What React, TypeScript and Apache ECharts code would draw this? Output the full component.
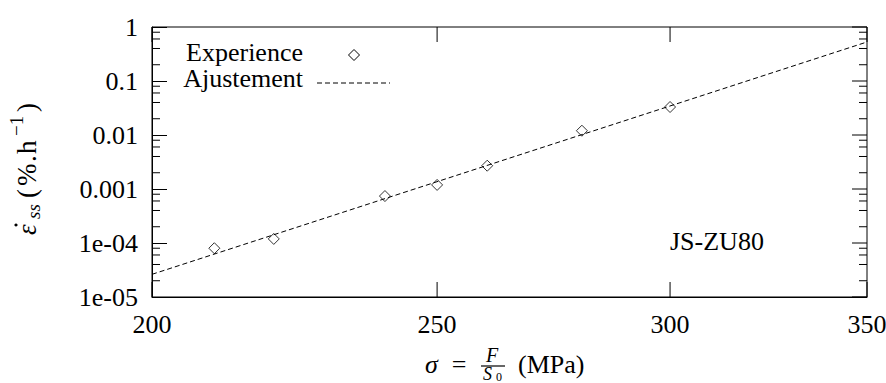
import React, { useEffect, useRef } from 'react';
import * as echarts from 'echarts';

// ---- data ----
const stressMPa = [210, 220, 240, 250, 260, 280, 300];
const creepRate = [8.0e-5, 1.19e-4, 7.4e-4, 1.19e-3, 2.7e-3, 1.2e-2, 3.3e-2];
const fitStress = [200, 350];
const fitRate = [2.63e-5, 0.528];

const xTickValues = [200, 250, 300, 350];
const xTickLabels = ['200', '250', '300', '350'];
const yMajorValues = [1e-5, 1e-4, 1e-3, 1e-2, 1e-1, 1];
const yTickLabels = ['1e-05', '1e-04', '0.001', '0.01', '0.1', '1'];
const yMinorValues = [
  2e-5, 4e-5, 6e-5, 8e-5,
  2e-4, 4e-4, 6e-4, 8e-4,
  2e-3, 4e-3, 6e-3, 8e-3,
  2e-2, 4e-2, 6e-2, 8e-2,
  0.2, 0.4, 0.6, 0.8,
];
const seriesNames = ['Experience', 'Ajustement'];
const annotationText = 'JS-ZU80';

const X_MIN = 200;
const X_MAX = 350;
const Y_MIN = 1e-5;
const Y_MAX = 1;

const FONT_FAMILY = 'Liberation Serif';
const MAJOR_LEN = 15;
const MINOR_LEN = 8;

function fontOf(size: number, italic = false) {
  return `${italic ? 'italic ' : ''}${size}px ${FONT_FAMILY}`;
}

function txt(x: number, y: number, text: string, size: number, align: string, italic = false, extra: any = {}) {
  const style: any = {
    text,
    fill: '#000',
    font: fontOf(size, italic),
    fontSize: size,
    fontFamily: FONT_FAMILY,
    align,
    verticalAlign: 'middle',
    ...extra,
  };
  if (italic) style.fontStyle = 'italic';
  return { type: 'text', x, y, silent: true, style };
}

// text placed by its baseline (Liberation Serif: em-centre is 0.3375em above baseline)
function btxt(x: number, baseline: number, text: string, size: number, italic = false) {
  return txt(x, baseline - 0.3375 * size, text, size, 'left', italic, { lineHeight: Math.round(size * 0.8) });
}

export default function App() {
  const ref = useRef<HTMLDivElement>(null);

  useEffect(() => {
    if (!ref.current) return;
    const chart = echarts.init(ref.current, undefined, { renderer: 'svg' });

    const option: any = {
      animation: false,
      backgroundColor: '#fff',
      textStyle: { fontFamily: FONT_FAMILY },
      grid: {
        left: 152,
        right: 19,
        top: 27,
        bottom: 86,
        show: true,
        borderColor: '#000',
        borderWidth: 1,
        containLabel: false,
        outerBoundsMode: 'none',
      },
      xAxis: {
        type: 'log',
        logBase: 10,
        min: X_MIN,
        max: X_MAX,
        axisLine: { show: true, lineStyle: { color: '#000', width: 1 } },
        axisTick: { show: false },
        axisLabel: { show: false },
        splitLine: { show: false },
        minorTick: { show: false },
      },
      yAxis: {
        type: 'log',
        logBase: 10,
        min: Y_MIN,
        max: Y_MAX,
        splitNumber: 5,
        axisLine: { show: true, lineStyle: { color: '#000', width: 1 } },
        axisTick: { show: true, inside: true, length: MAJOR_LEN, lineStyle: { color: '#000', width: 1 } },
        axisLabel: {
          show: true,
          margin: 14,
          color: '#000',
          fontSize: 26,
          fontFamily: FONT_FAMILY,
          formatter: (v: number) => {
            const i = yMajorValues.findIndex((m) => Math.abs(Math.log10(m) - Math.log10(v)) < 1e-6);
            return i >= 0 ? yTickLabels[i] : '';
          },
        },
        splitLine: { show: false },
        minorTick: { show: false },
      },
      series: [
        {
          name: seriesNames[1],
          type: 'line',
          data: fitStress.map((x, i) => [x, fitRate[i]]),
          showSymbol: false,
          symbol: 'none',
          lineStyle: { color: '#000', width: 1, type: [5, 3] },
          z: 2,
          silent: true,
        },
        {
          name: seriesNames[0],
          type: 'scatter',
          data: stressMPa.map((x, i) => [x, creepRate[i]]),
          symbol: 'diamond',
          symbolSize: 11,
          itemStyle: { color: 'rgba(0,0,0,0)', borderColor: '#000', borderWidth: 1 },
          z: 3,
          silent: true,
        },
        {
          // x ticks (bottom and top) + labels
          type: 'custom',
          coordinateSystem: 'cartesian2d',
          clip: false,
          silent: true,
          z: 4,
          data: xTickValues.map((v) => [v, Y_MIN]),
          renderItem: (params: any, api: any) => {
            const v = xTickValues[params.dataIndex];
            const b = api.coord([v, Y_MIN]);
            const t = api.coord([v, Y_MAX]);
            return {
              type: 'group',
              children: [
                { type: 'line', shape: { x1: b[0], y1: b[1], x2: b[0], y2: b[1] - MAJOR_LEN }, style: { stroke: '#000', lineWidth: 1 } },
                { type: 'line', shape: { x1: t[0], y1: t[1], x2: t[0], y2: t[1] + MAJOR_LEN }, style: { stroke: '#000', lineWidth: 1 } },
                {
                  type: 'text',
                  x: b[0],
                  y: b[1] + 27,
                  style: {
                    text: xTickLabels[params.dataIndex],
                    fill: '#000',
                    font: fontOf(26),
                    fontSize: 26,
                    fontFamily: FONT_FAMILY,
                    align: 'center',
                    verticalAlign: 'middle',
                  },
                },
              ],
            };
          },
        },
        {
          // right-side major y ticks
          type: 'custom',
          coordinateSystem: 'cartesian2d',
          clip: false,
          silent: true,
          z: 4,
          data: yMajorValues.map((v) => [X_MAX, v]),
          renderItem: (params: any, api: any) => {
            const v = yMajorValues[params.dataIndex];
            const r = api.coord([X_MAX, v]);
            return {
              type: 'line',
              shape: { x1: r[0], y1: r[1], x2: r[0] - MAJOR_LEN, y2: r[1] },
              style: { stroke: '#000', lineWidth: 1 },
            };
          },
        },
        {
          // minor y ticks on both sides
          type: 'custom',
          coordinateSystem: 'cartesian2d',
          clip: false,
          silent: true,
          z: 4,
          data: yMinorValues.map((v) => [X_MIN, v]),
          renderItem: (params: any, api: any) => {
            const v = yMinorValues[params.dataIndex];
            const l = api.coord([X_MIN, v]);
            const r = api.coord([X_MAX, v]);
            return {
              type: 'group',
              children: [
                { type: 'line', shape: { x1: l[0], y1: l[1], x2: l[0] + MINOR_LEN, y2: l[1] }, style: { stroke: '#000', lineWidth: 1 } },
                { type: 'line', shape: { x1: r[0], y1: r[1], x2: r[0] - MINOR_LEN, y2: r[1] }, style: { stroke: '#000', lineWidth: 1 } },
              ],
            };
          },
        },
      ],
      graphic: [
        // legend
        txt(303, 52, seriesNames[0], 26, 'right', false, { lineHeight: 22 }),
        {
          type: 'polygon',
          silent: true,
          shape: { points: [[354, 49.5], [359.5, 55], [354, 60.5], [348.5, 55]] },
          style: { fill: 'none', stroke: '#000', lineWidth: 1 },
        },
        txt(303, 78.5, seriesNames[1], 26, 'right', false, { lineHeight: 22 }),
        {
          type: 'line',
          silent: true,
          shape: { x1: 317, y1: 83, x2: 390, y2: 83 },
          style: { stroke: '#000', lineWidth: 1, lineDash: [5, 3] },
        },
        // annotation
        txt(670, 241, annotationText, 26, 'left'),
        // x axis title: sigma = F / S0 (MPa)
        txt(425, 364, 'σ', 26, 'left', true),
        txt(459, 364, '=', 26, 'center'),
        txt(492, 355, 'F', 20, 'center', true, { lineHeight: 16 }),
        {
          type: 'line',
          silent: true,
          shape: { x1: 481, y1: 366, x2: 505, y2: 366 },
          style: { stroke: '#000', lineWidth: 1.2 },
        },
        txt(483, 373.5, 'S', 18, 'left', true, { lineHeight: 14 }),
        txt(496, 377, '0', 12, 'left', false, { lineHeight: 10 }),
        txt(518, 364, '(MPa)', 26, 'left'),
        // y axis title (rotated, reads bottom to top); local x along text, local y=0 is the baseline
        {
          type: 'group',
          x: 36,
          y: 165,
          rotation: Math.PI / 2,
          silent: true,
          children: [
            btxt(-70, 0, 'ε', 27, true),
            { type: 'circle', silent: true, shape: { cx: -60, cy: -20, r: 1.6 }, style: { fill: '#000' } },
            btxt(-54, 4, 'ss', 19, true),
            btxt(-33, 0, '(', 27),
            btxt(-21, 0, '%', 27),
            btxt(3, 0, '.', 27),
            btxt(11, 0, 'h', 27),
            btxt(29, -13, '\u22121', 19),
            btxt(53, 0, ')', 27),
          ],
        },
      ],
    };

    chart.setOption(option);
    return () => {
      chart.dispose();
    };
  }, []);

  return (
    <div
      ref={ref}
      style={{ position: 'fixed', left: 0, top: 0, width: 886, height: 383, background: '#fff' }}
    />
  );
}
